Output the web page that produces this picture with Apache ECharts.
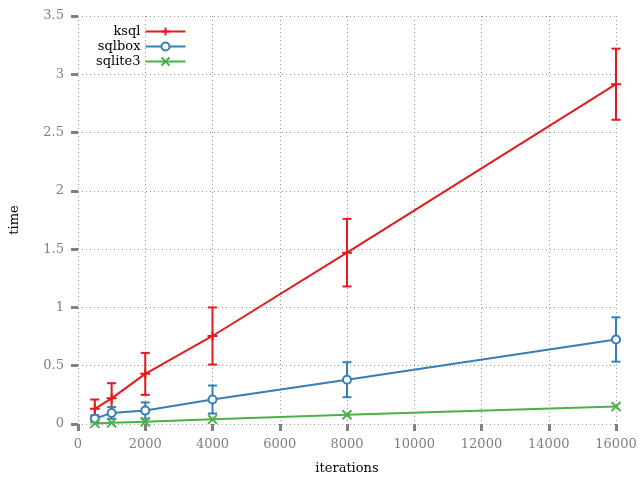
<!DOCTYPE html>
<html>
<head>
<meta charset="utf-8">
<script src="https://cdn.jsdelivr.net/npm/echarts@6/dist/echarts.min.js"></script>
<style>
  html, body { margin: 0; padding: 0; background: #fff; }
  #chart { width: 640px; height: 480px; }
</style>
</head>
<body>
<div id="chart"></div>
<script>
  // iteration counts (x)
  var iterations = [500, 1000, 2000, 4000, 8000, 16000];
  // mean times
  var ksqlTime = [0.13, 0.22, 0.43, 0.755, 1.47, 2.915];
  var sqlboxTime = [0.045, 0.095, 0.115, 0.21, 0.38, 0.725];
  var sqliteTime = [0.005, 0.01, 0.02, 0.04, 0.08, 0.15];
  // error (+/-)
  var ksqlErr = [0.08, 0.13, 0.18, 0.245, 0.29, 0.305];
  var sqlboxErr = [0.03, 0.05, 0.07, 0.12, 0.15, 0.19];

  var FONT = 'DejaVu Serif';
  var RED = '#e41a1c', BLUE = '#377eb8', GREEN = '#4daf4a';

  function pairs(ys) {
    return iterations.map(function (x, i) { return [x, ys[i]]; });
  }
  function errData(ys, es) {
    return iterations.map(function (x, i) { return [x, ys[i] - es[i], ys[i] + es[i]]; });
  }
  function errSeries(name, ys, es, color) {
    return {
      name: name,
      type: 'custom',
      data: errData(ys, es),
      encode: { x: 0, y: [1, 2] },
      z: 3,
      silent: true,
      renderItem: function (params, api) {
        var lo = api.coord([api.value(0), api.value(1)]);
        var hi = api.coord([api.value(0), api.value(2)]);
        var w = 4.5;
        var st = { stroke: color, lineWidth: 2 };
        return {
          type: 'group',
          children: [
            { type: 'line', shape: { x1: lo[0], y1: lo[1], x2: hi[0], y2: hi[1] }, style: st },
            { type: 'line', shape: { x1: lo[0] - w, y1: lo[1], x2: lo[0] + w, y2: lo[1] }, style: st },
            { type: 'line', shape: { x1: hi[0] - w, y1: hi[1], x2: hi[0] + w, y2: hi[1] }, style: st }
          ]
        };
      }
    };
  }

  var chart = echarts.init(document.getElementById('chart'));
  var option = {
    animation: false,
    textStyle: { fontFamily: FONT },
    grid: { left: 75, right: 24, top: 16, bottom: 56 },
    legend: {
      data: ['ksql', 'sqlbox', 'sqlite3'],
      orient: 'vertical',
      align: 'right',
      left: 91,
      top: 20,
      itemGap: 2,
      itemWidth: 40,
      itemHeight: 10,
      textStyle: { fontFamily: FONT, fontSize: 13, color: '#000' }
    },
    xAxis: {
      type: 'value',
      min: 0, max: 16000, interval: 2000,
      name: 'iterations',
      nameLocation: 'middle',
      nameGap: 38,
      nameTextStyle: { fontFamily: FONT, fontSize: 13, color: '#000' },
      axisLine: { show: false },
      axisTick: { show: true, length: 7, lineStyle: { color: '#808080', width: 3 } },
      axisLabel: { color: '#808080', fontFamily: FONT, fontSize: 13, margin: 14,
        formatter: function (v) { return String(v); } },
      splitLine: { show: true, lineStyle: { color: '#999', type: [1, 3], width: 1 } }
    },
    yAxis: {
      type: 'value',
      min: 0, max: 3.5, interval: 0.5,
      name: 'time',
      nameLocation: 'middle',
      nameGap: 57,
      nameTextStyle: { fontFamily: FONT, fontSize: 13, color: '#000' },
      axisLine: { show: false },
      axisTick: { show: true, length: 7, lineStyle: { color: '#808080', width: 3 } },
      axisLabel: { color: '#808080', fontFamily: FONT, fontSize: 13, margin: 14 },
      splitLine: { show: true, lineStyle: { color: '#999', type: [1, 3], width: 1 } }
    },
    series: [
      {
        name: 'ksql', type: 'line', data: pairs(ksqlTime), z: 4,
        symbol: 'path://M-1,0L1,0M0,-1L0,1', symbolSize: 10,
        lineStyle: { color: RED, width: 2 },
        itemStyle: { color: RED, borderColor: RED, borderWidth: 2 }
      },
      {
        name: 'sqlbox', type: 'line', data: pairs(sqlboxTime), z: 4,
        symbol: 'circle', symbolSize: 8,
        lineStyle: { color: BLUE, width: 2 },
        itemStyle: { color: '#fff', borderColor: BLUE, borderWidth: 2 }
      },
      {
        name: 'sqlite3', type: 'line', data: pairs(sqliteTime), z: 4,
        symbol: 'path://M-1,-1L1,1M-1,1L1,-1', symbolSize: 9,
        lineStyle: { color: GREEN, width: 2 },
        itemStyle: { color: GREEN, borderColor: GREEN, borderWidth: 2 }
      },
      errSeries('ksqlErr', ksqlTime, ksqlErr, RED),
      errSeries('sqlboxErr', sqlboxTime, sqlboxErr, BLUE)
    ]
  };
  chart.setOption(option);
  window.addEventListener('resize', function () { chart.resize(); });
</script>
</body>
</html>
